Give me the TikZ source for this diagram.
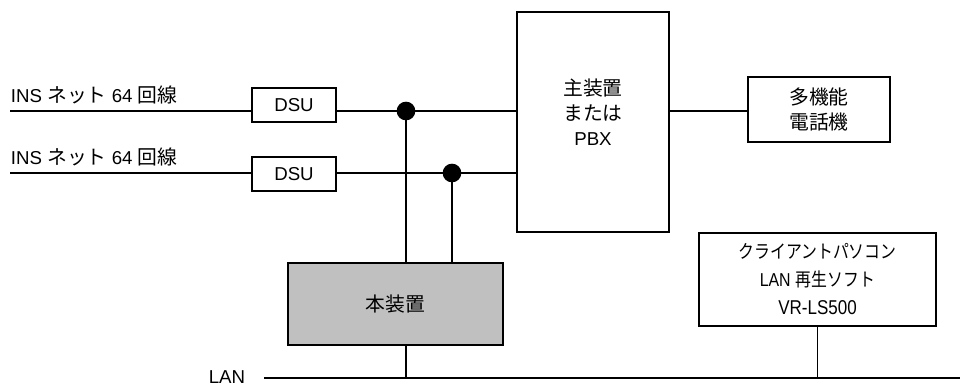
\documentclass[tikz,border=0pt]{standalone}
\usepackage{fontspec}
\setmainfont{Liberation Sans}
\newfontfamily\jp[Scale=1.06]{Noto Sans CJK JP}
\newfontfamily\jpn[FakeStretch=0.85]{Noto Sans CJK JP}
\newfontfamily\arn[FakeStretch=0.85]{Liberation Sans}
\begin{document}
\begin{tikzpicture}[x=0.75pt,y=-0.75pt,
  line width=1.4pt,
  txt/.style={font=\fontsize{14}{18.75}\selectfont, inner sep=0pt},
  box/.style={draw, line width=1.4pt, inner sep=0pt, align=center,
    font=\fontsize{14}{18.75}\selectfont},
  dot/.style={circle, fill=black, draw=none, minimum size=14pt, inner sep=0pt}]
\useasboundingbox (0,0) rectangle (960,385);
\definecolor{hongray}{RGB}{192,192,192}
% boxes
\node[box, minimum width=63pt, minimum height=25.5pt] (dsu1) at (294,105) {DSU};
\node[box, minimum width=63pt, minimum height=25.5pt] (dsu2) at (294,174) {DSU};
\node[box, minimum width=114pt, minimum height=165pt] (pbx) at (593,122) {};
\node[txt, align=center] (pbxtext) at (593,112) {{\jp 主装置}\\{\jp または}\\PBX};
\node[box, minimum width=106.5pt, minimum height=48.75pt] (phone) at (819,109.5) {{\jp 多機能}\\{\jp 電話機}};
\node[box, minimum width=177.75pt, minimum height=69.75pt,
  font=\fontsize{14}{21}\selectfont] (client) at (817.5,279.5)
  {{\jpn クライアントパソコン}\\{\arn LAN} {\jpn 再生ソフト}\\{\fontsize{15}{21}\selectfont\arn VR-LS500}};
\node[box, fill=hongray, minimum width=161.25pt, minimum height=61.5pt] (hon) at (395.5,304) {\jp 本装置};
% labels
\node[txt, anchor=west] (ins1) at (10,95) {INS {\jp ネット} 64 {\jp 回線}};
\node[txt, anchor=west] (ins2) at (10,157) {INS {\jp ネット} 64 {\jp 回線}};
\node[inner sep=0pt, anchor=base east, font=\fontsize{14}{16}\selectfont] (lanlabel) at (246,383) {LAN};
% coordinates
\coordinate (in1) at (10,111);
\coordinate (in2) at (10,173);
\coordinate (lanL) at (264,378);
\coordinate (lanR) at (960,378);
\node[dot] (dot1) at (406,111) {};
\node[dot] (dot2) at (452,173) {};
% connectors
\draw (in1) -- (in1 -| dsu1.west);
\draw (dsu1.east |- in1) -- (dot1.center) -- (dot1 -| pbx.west);
\draw (in2) -- (in2 -| dsu2.west);
\draw (dsu2.east |- in2) -- (dot2.center) -- (dot2 -| pbx.west);
\draw (dot1.center) -- (dot1 |- hon.north);
\draw (dot2.center) -- (dot2 |- hon.north);
\draw (pbx.east |- dot1) -- (phone.west |- dot1);
\draw (lanL) -- (lanR);
\draw (dot1 |- hon.south) -- (dot1 |- lanL);
\draw (client.south) -- (client.south |- lanL);
\end{tikzpicture}
\end{document}
